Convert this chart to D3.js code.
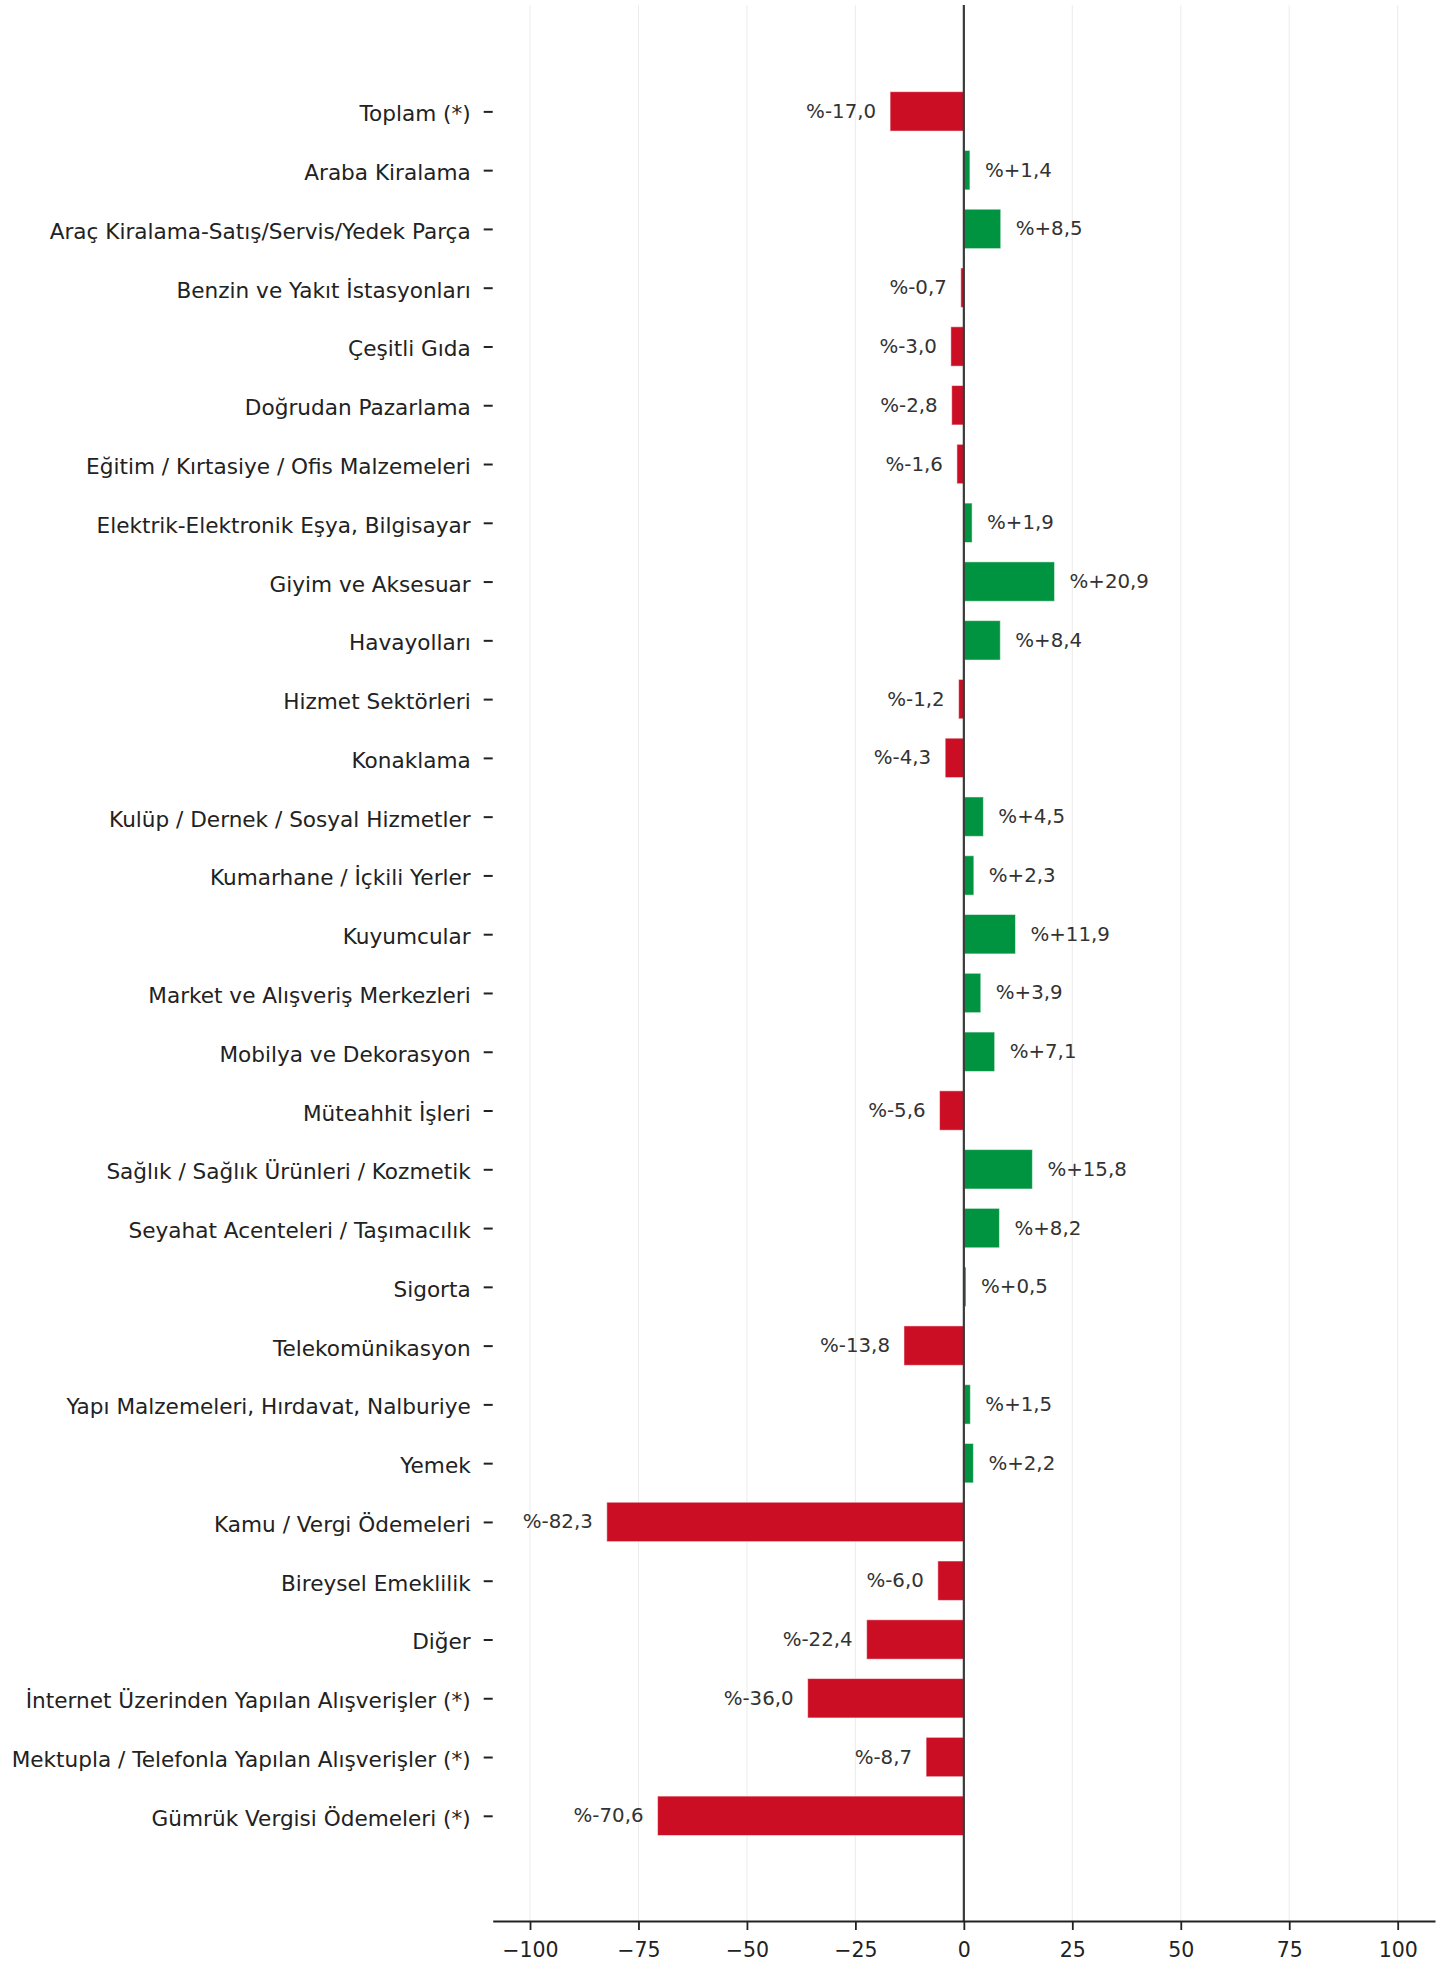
<!DOCTYPE html>
<html>
<head>
<meta charset="utf-8">
<script src="https://cdn.jsdelivr.net/npm/d3@7"></script>
<style>
  body { margin: 0; background: #fff; }
  text { font-family: "DejaVu Sans", sans-serif; }
</style>
</head>
<body>
<svg id="renderer" width="1451" height="1964"></svg>
<script>
const categories = [
    'Toplam (*)',
    'Araba Kiralama',
    'Araç Kiralama-Satış/Servis/Yedek Parça',
    'Benzin ve Yakıt İstasyonları',
    'Çeşitli Gıda',
    'Doğrudan Pazarlama',
    'Eğitim / Kırtasiye / Ofis Malzemeleri',
    'Elektrik-Elektronik Eşya, Bilgisayar',
    'Giyim ve Aksesuar',
    'Havayolları',
    'Hizmet Sektörleri',
    'Konaklama',
    'Kulüp / Dernek / Sosyal Hizmetler',
    'Kumarhane / İçkili Yerler',
    'Kuyumcular',
    'Market ve Alışveriş Merkezleri',
    'Mobilya ve Dekorasyon',
    'Müteahhit İşleri',
    'Sağlık / Sağlık Ürünleri / Kozmetik',
    'Seyahat Acenteleri / Taşımacılık',
    'Sigorta',
    'Telekomünikasyon',
    'Yapı Malzemeleri, Hırdavat, Nalburiye',
    'Yemek',
    'Kamu / Vergi Ödemeleri',
    'Bireysel Emeklilik',
    'Diğer',
    'İnternet Üzerinden Yapılan Alışverişler (*)',
    'Mektupla / Telefonla Yapılan Alışverişler (*)',
    'Gümrük Vergisi Ödemeleri (*)'
];

const changes = [
    -17.0, 1.4, 8.5, -0.7, -3.0, -2.8, -1.6, 1.9, 20.9, 8.4,
    -1.2, -4.3, 4.5, 2.3, 11.9, 3.9, 7.1, -5.6, 15.8, 8.2,
    0.5, -13.8, 1.5, 2.2, -82.3, -6.0, -22.4, -36.0, -8.7, -70.6
];

const xTicks = [-100, -75, -50, -25, 0, 25, 50, 75, 100];

const POS_COLOR = '#009440';
const NEG_COLOR = '#cc0e25';
const PLOT_LEFT = 492.7, PLOT_RIGHT = 1435, PLOT_TOP = 5, PLOT_BOTTOM = 1921;
const BAR_HEIGHT = 0.67;

const root = d3.select('#renderer');

let x = d3.scaleLinear()
    .domain([-108.6, 108.6])
    .range([PLOT_LEFT, PLOT_RIGHT]);

// satır indeksi -> piksel
let y = d3.scaleLinear()
    .domain([-1.81, categories.length - 1 + 1.79])
    .range([PLOT_TOP, PLOT_BOTTOM]);

// ızgara çizgileri
root.append('g').selectAll('line')
    .data(xTicks)
    .enter().append('line')
    .attr('x1', d => x(d))
    .attr('x2', d => x(d))
    .attr('y1', PLOT_TOP)
    .attr('y2', PLOT_BOTTOM)
    .attr('stroke', '#ececec')
    .attr('stroke-width', 1);

// çubuklar
let data = categories.map(function (c, i) {
    return { name: c, value: changes[i], index: i };
});

root.append('g').selectAll('rect')
    .data(data)
    .enter().append('rect')
    .attr('x', d => x(Math.min(0, d.value)))
    .attr('y', d => y(d.index - BAR_HEIGHT / 2))
    .attr('width', d => Math.abs(x(d.value) - x(0)))
    .attr('height', d => y(BAR_HEIGHT) - y(0))
    .attr('fill', d => d.value >= 0 ? POS_COLOR : NEG_COLOR)
    .attr('stroke', '#fff')
    .attr('stroke-opacity', 0.5)
    .attr('stroke-width', 1);

// değer etiketleri
function fmt(v) {
    let s = Math.abs(v).toFixed(1).replace('.', ',');
    return '%' + (v >= 0 ? '+' : '-') + s;
}

root.append('g').selectAll('text')
    .data(data)
    .enter().append('text')
    .attr('x', d => d.value >= 0 ? x(d.value) + 15 : x(d.value) - 14)
    .attr('y', d => y(d.index))
    .attr('dominant-baseline', 'central')
    .attr('text-anchor', d => d.value >= 0 ? 'start' : 'end')
    .attr('font-size', 19.8)
    .attr('fill', '#333')
    .text(d => fmt(d.value));

// sıfır çizgisi
root.append('line')
    .attr('x1', x(0))
    .attr('x2', x(0))
    .attr('y1', PLOT_TOP)
    .attr('y2', PLOT_BOTTOM)
    .attr('stroke', '#3a3a3a')
    .attr('stroke-width', 2.2);

// y ekseni (kategori adları)
let yAxis = root.append('g')
    .attr('transform', 'translate(' + PLOT_LEFT + ',0)')
    .call(d3.axisLeft(y)
        .tickValues(d3.range(categories.length))
        .tickFormat(i => categories[i])
        .tickSize(9)
        .tickPadding(13));
yAxis.select('.domain').remove();
yAxis.selectAll('.tick line').attr('stroke', '#222').attr('stroke-width', 2);
yAxis.selectAll('.tick text')
    .attr('font-size', 21.6)
    .attr('fill', '#222')
    .attr('dy', 2)
    .attr('dominant-baseline', 'central');

// x ekseni
let xAxis = root.append('g')
    .attr('transform', 'translate(0,' + PLOT_BOTTOM + ')')
    .call(d3.axisBottom(x)
        .tickValues(xTicks)
        .tickFormat(d => d < 0 ? '\u2212' + Math.abs(d) : String(d))
        .tickSize(9)
        .tickSizeOuter(0)
        .tickPadding(12));
xAxis.select('.domain').attr('stroke', '#222').attr('stroke-width', 1.8);
xAxis.selectAll('.tick line').attr('stroke', '#222').attr('stroke-width', 1.8);
xAxis.selectAll('.tick text')
    .attr('font-size', 20.5)
    .attr('fill', '#222');
</script>
</body>
</html>
